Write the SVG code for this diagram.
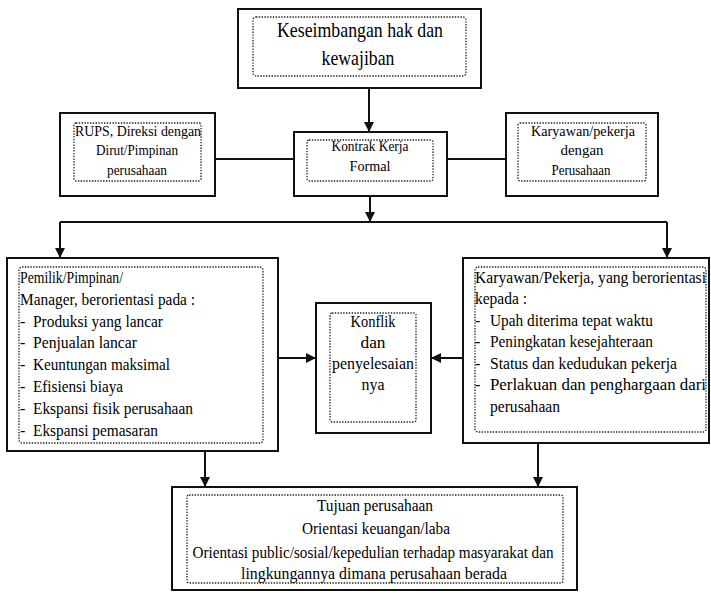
<svg xmlns="http://www.w3.org/2000/svg" width="711" height="593" viewBox="0 0 711 593">
  <style>
    .outer { fill: #fff; stroke: #111; stroke-width: 2; }
    .inner { fill: none; stroke: #222; stroke-width: 1.3; stroke-dasharray: 1.4 1.4; }
    .t { font-family: "Liberation Serif", "Times New Roman", serif; fill: #000; }
    .big { font-size: 22px; }
    .sm { font-size: 14px; }
    .md { font-size: 16px; }
    .c { text-anchor: middle; }
    .wire { fill: none; stroke: #111; stroke-width: 2; }
  </style>
  <defs>
    <marker id="arrow" viewBox="0 0 10 10" refX="10" refY="5" markerWidth="5" markerHeight="5" orient="auto" markerUnits="strokeWidth">
      <path d="M0,0 L10,5 L0,10 Z" fill="#111"/>
    </marker>
  </defs>
  <rect width="711" height="593" fill="#fff"/>

  <!-- connectors -->
  <g id="connectors">
    <path class="wire" d="M369,88 L369,132" marker-end="url(#arrow)"/>
    <path class="wire" d="M215,159 L294,159"/>
    <path class="wire" d="M447,159 L506,159"/>
    <path class="wire" d="M370,196 L370,222" marker-end="url(#arrow)"/>
    <path class="wire" d="M60,222 L667,222"/>
    <path class="wire" d="M60,222 L60,258" marker-end="url(#arrow)"/>
    <path class="wire" d="M667,222 L667,258" marker-end="url(#arrow)"/>
    <path class="wire" d="M278,358 L316,358" marker-end="url(#arrow)"/>
    <path class="wire" d="M463,358 L431,358" marker-end="url(#arrow)"/>
    <path class="wire" d="M205,451 L205,487" marker-end="url(#arrow)"/>
    <path class="wire" d="M538,443 L538,487" marker-end="url(#arrow)"/>
  </g>

  <!-- top: balance of rights and duties -->
  <g id="keseimbangan">
    <rect class="outer" x="238" y="9" width="243" height="79"/>
    <rect class="inner" x="253" y="17" width="213" height="59" rx="3"/>
    <text class="t big c" x="360" y="37" textLength="166" lengthAdjust="spacingAndGlyphs">Keseimbangan hak dan</text>
    <text class="t big c" x="358" y="65" textLength="73" lengthAdjust="spacingAndGlyphs">kewajiban</text>
  </g>

  <g id="rups">
    <rect class="outer" x="60" y="113" width="155" height="83"/>
    <rect class="inner" x="74" y="123" width="127" height="58" rx="2"/>
    <text class="t sm c" x="138" y="136" textLength="126" lengthAdjust="spacingAndGlyphs">RUPS, Direksi dengan</text>
    <text class="t sm c" x="137" y="155" textLength="82" lengthAdjust="spacingAndGlyphs">Dirut/Pimpinan</text>
    <text class="t sm c" x="137" y="175" textLength="60" lengthAdjust="spacingAndGlyphs">perusahaan</text>
  </g>

  <g id="kontrak">
    <rect class="outer" x="294" y="132" width="153" height="64"/>
    <rect class="inner" x="307" y="140" width="126" height="41" rx="2"/>
    <text class="t sm c" x="370" y="151" textLength="77" lengthAdjust="spacingAndGlyphs">Kontrak Kerja</text>
    <text class="t sm c" x="370" y="171" textLength="41" lengthAdjust="spacingAndGlyphs">Formal</text>
  </g>

  <g id="karyawan-pekerja">
    <rect class="outer" x="506" y="113" width="152" height="83"/>
    <rect class="inner" x="518" y="123" width="128" height="58" rx="2"/>
    <text class="t sm c" x="583" y="136" textLength="104" lengthAdjust="spacingAndGlyphs">Karyawan/pekerja</text>
    <text class="t sm c" x="582" y="155" textLength="43" lengthAdjust="spacingAndGlyphs">dengan</text>
    <text class="t sm c" x="581" y="175" textLength="59" lengthAdjust="spacingAndGlyphs">Perusahaan</text>
  </g>

  <!-- owner / management orientation -->
  <g id="pemilik">
    <rect class="outer" x="7" y="258" width="271" height="193"/>
    <rect class="inner" x="19" y="267" width="244" height="176" rx="3"/>
    <text class="t md" x="20" y="283" textLength="103" lengthAdjust="spacingAndGlyphs">Pemilik/Pimpinan/</text>
    <text class="t md" x="20" y="305" textLength="175" lengthAdjust="spacingAndGlyphs">Manager, berorientasi pada :</text>
    <g class="t md">
      <text x="20" y="327">-</text><text x="33" y="327" textLength="130" lengthAdjust="spacingAndGlyphs">Produksi  yang lancar</text>
      <text x="20" y="348">-</text><text x="33" y="348" textLength="104" lengthAdjust="spacingAndGlyphs">Penjualan lancar</text>
      <text x="20" y="370">-</text><text x="33" y="370" textLength="137" lengthAdjust="spacingAndGlyphs">Keuntungan maksimal</text>
      <text x="20" y="392">-</text><text x="33" y="392" textLength="90" lengthAdjust="spacingAndGlyphs">Efisiensi biaya</text>
      <text x="20" y="414">-</text><text x="33" y="414" textLength="160" lengthAdjust="spacingAndGlyphs">Ekspansi fisik perusahaan</text>
      <text x="20" y="436">-</text><text x="33" y="436" textLength="125" lengthAdjust="spacingAndGlyphs">Ekspansi pemasaran</text>
    </g>
  </g>

  <g id="konflik">
    <rect class="outer" x="316" y="303" width="115" height="130"/>
    <rect class="inner" x="330" y="313" width="86" height="109" rx="2"/>
    <text class="t md c" x="373" y="327" textLength="45" lengthAdjust="spacingAndGlyphs">Konflik</text>
    <text class="t md c" x="373" y="348" textLength="25" lengthAdjust="spacingAndGlyphs">dan</text>
    <text class="t md c" x="373" y="369" textLength="82" lengthAdjust="spacingAndGlyphs">penyelesaian</text>
    <text class="t md c" x="373" y="390" textLength="23" lengthAdjust="spacingAndGlyphs">nya</text>
  </g>

  <!-- employee orientation -->
  <g id="karyawan">
    <rect class="outer" x="463" y="258" width="246" height="185"/>
    <rect class="inner" x="475" y="267" width="231" height="165" rx="3"/>
    <text class="t md" x="475" y="283" textLength="231" lengthAdjust="spacingAndGlyphs">Karyawan/Pekerja, yang berorientasi</text>
    <text class="t md" x="475" y="304" textLength="52" lengthAdjust="spacingAndGlyphs">kepada :</text>
    <g class="t md">
      <text x="475" y="326">-</text><text x="490" y="326" textLength="163" lengthAdjust="spacingAndGlyphs">Upah diterima tepat waktu</text>
      <text x="475" y="347">-</text><text x="490" y="347" textLength="163" lengthAdjust="spacingAndGlyphs">Peningkatan kesejahteraan</text>
      <text x="475" y="369">-</text><text x="490" y="369" textLength="187" lengthAdjust="spacingAndGlyphs">Status  dan kedudukan pekerja</text>
      <text x="475" y="390">-</text><text x="490" y="390" textLength="216" lengthAdjust="spacingAndGlyphs">Perlakuan  dan  penghargaan  dari</text>
      <text x="490" y="412" textLength="70" lengthAdjust="spacingAndGlyphs">perusahaan</text>
    </g>
  </g>

  <!-- company goals -->
  <g id="tujuan">
    <rect class="outer" x="172" y="487" width="405" height="103"/>
    <rect class="inner" x="187" y="495" width="376" height="88" rx="2"/>
    <text class="t md c" x="375" y="511" textLength="116" lengthAdjust="spacingAndGlyphs">Tujuan perusahaan</text>
    <text class="t md c" x="376" y="534" textLength="148" lengthAdjust="spacingAndGlyphs">Orientasi keuangan/laba</text>
    <text class="t md c" x="373" y="558" textLength="361" lengthAdjust="spacingAndGlyphs">Orientasi public/sosial/kepedulian  terhadap masyarakat dan</text>
    <text class="t md c" x="374" y="579" textLength="266" lengthAdjust="spacingAndGlyphs">lingkungannya  dimana perusahaan berada</text>
  </g>
</svg>
